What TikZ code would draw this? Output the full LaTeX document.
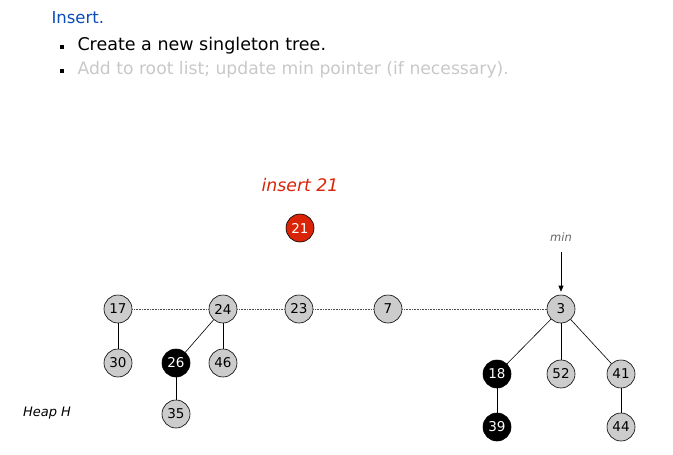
\documentclass[tikz,border=0pt]{standalone}
\usepackage{fontspec}
\setmainfont{DejaVu Sans}
\usepackage{tikz}
\usetikzlibrary{arrows.meta,positioning}
\definecolor{titleblue}{HTML}{0A4DB8}
\definecolor{insred}{HTML}{D92408}
\definecolor{keygray}{HTML}{CCCCCC}
\definecolor{fadegray}{HTML}{C8C8C8}
\begin{document}
\begin{tikzpicture}[x=1pt, y=-1pt, every node/.style={font=\fontsize{13.5}{16}\selectfont}]
\tikzset{key/.style={draw, circle, minimum size=28pt, inner sep=0pt, fill=keygray, line width=0.6pt}}
\tikzset{mark key/.style={key, fill=black, text=white}}
\tikzset{new key/.style={key, fill=insred, text=white}}
\tikzset{edge/.style={line width=0.6pt}}
\tikzset{rootlist/.style={line width=0.4pt, draw=black!70, dash pattern=on 1pt off 0.6pt}}
\useasboundingbox (0,0) rectangle (673,455);
% header
\node[anchor=west, text=titleblue, font=\fontsize{16.5}{19}\selectfont] (title) at (48,18) {Insert.};
\fill (60,45) rectangle (64,49);
\node[anchor=west, font=\fontsize{17.5}{20}\selectfont] (line1) at (74,46) {Create a new singleton tree.};
\fill (60,69) rectangle (64,73);
\node[anchor=west, text=fadegray, font=\fontsize{17.2}{20}\selectfont] (line2) at (74,70) {Add to root list; update min pointer (if necessary).};
% roots
\node[key] (k17) at (118,309) {17};
\node[key] (k24) at (223,309) {24};
\node[key] (k23) at (299,309) {23};
\node[key] (k7) at (388,309) {7};
\node[key] (k3) at (561,309) {3};
% children
\node[key] (k30) at (118,363) {30};
\node[mark key] (k26) at (176,363) {26};
\node[key] (k46) at (223,363) {46};
\node[key] (k35) at (176,414) {35};
\node[mark key] (k18) at (497,374) {18};
\node[key] (k52) at (561,374) {52};
\node[key] (k41) at (621,374) {41};
\node[mark key] (k39) at (497,427) {39};
\node[key] (k44) at (621,427) {44};
% new node
\node[text=insred, font=\itshape\fontsize{17.3}{20}\selectfont] (ins) at (300,185) {insert 21};
\node[new key] (k21) at (300,228) {21};
% labels
\node[text=black!60, font=\itshape\fontsize{11.5}{13}\selectfont] (min) at (561,237) {min};
\coordinate (mintop) at (561,252);
\node[font=\itshape\fontsize{13}{15}\selectfont] (heap) at (47,413) {Heap H};
% root list
\draw[rootlist] (k17) -- (k24);
\draw[rootlist] (k24) -- (k23);
\draw[rootlist] (k23) -- (k7);
\draw[rootlist] (k7) -- (k3);
% tree edges
\draw[edge] (k17) -- (k30);
\draw[edge] (k24) -- (k26);
\draw[edge] (k24) -- (k46);
\draw[edge] (k26) -- (k35);
\draw[edge] (k3) -- (k18);
\draw[edge] (k3) -- (k52);
\draw[edge] (k3) -- (k41);
\draw[edge] (k18) -- (k39);
\draw[edge] (k41) -- (k44);
% min pointer
\draw[edge, -{Triangle[length=6pt, width=5pt]}, shorten >=3pt] (mintop) -- (k3);
\end{tikzpicture}
\end{document}
